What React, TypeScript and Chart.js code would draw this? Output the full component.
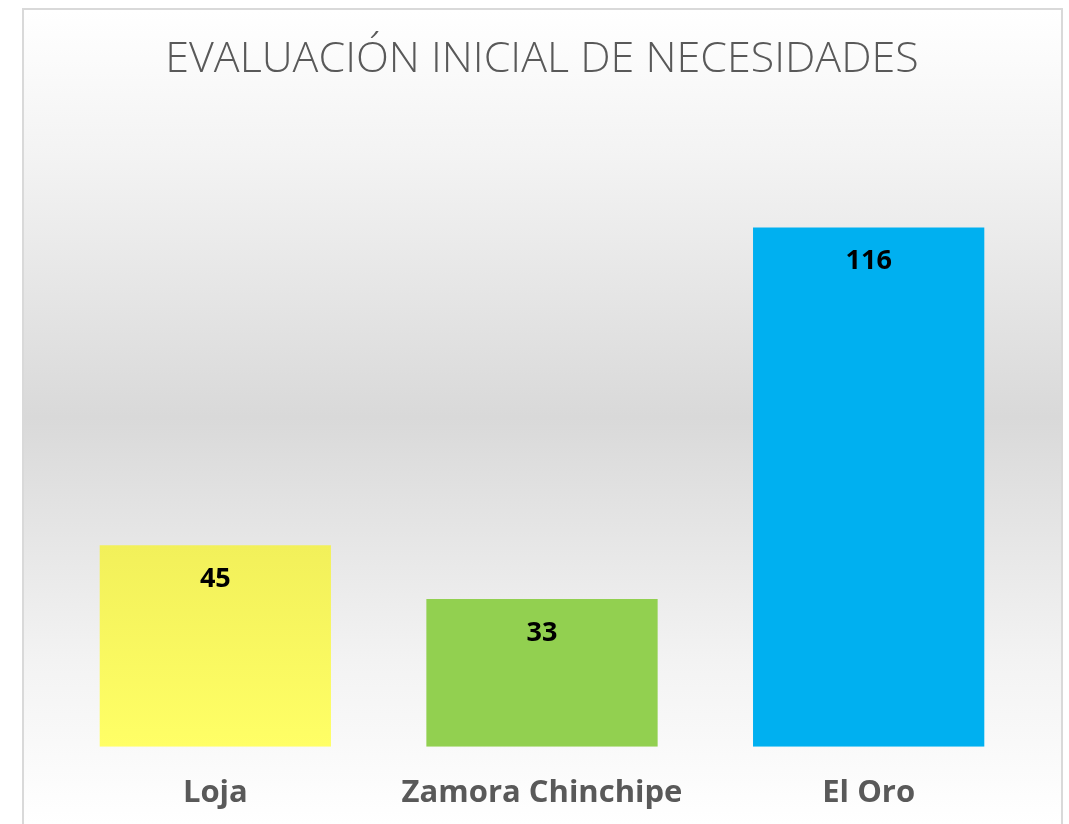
import React, { useEffect, useRef } from "react";
import { Chart, registerables } from "chart.js";

Chart.register(...registerables);

const categories = ["Loja", "Zamora Chinchipe", "El Oro"];
const values = [45, 33, 116];
const titleText = "EVALUACIÓN INICIAL DE NECESIDADES";

const FONT = "'Open Sans', 'Noto Sans', sans-serif";

export default function App() {
  const ref = useRef<HTMLCanvasElement | null>(null);

  useEffect(() => {
    const canvas = ref.current;
    if (!canvas) return;

    const labelPlugin = {
      id: "barLabels",
      afterDatasetsDraw(chart: any) {
        const ctx = chart.ctx;
        const meta = chart.getDatasetMeta(0);
        ctx.save();
        ctx.font = `bold 27px ${FONT}`;
        ctx.fillStyle = "#000000";
        ctx.textAlign = "center";
        ctx.textBaseline = "middle";
        meta.data.forEach((bar: any, i: number) => {
          ctx.fillText(String(values[i]), bar.x, bar.y + 34);
        });
        ctx.restore();
      },
    };

    const chart = new Chart(canvas, {
      type: "bar",
      data: {
        labels: categories,
        datasets: [
          {
            data: values,
            backgroundColor: (c: any) => {
              const i = c.dataIndex;
              if (i === 0) {
                const area = c.chart.chartArea;
                const ys = c.chart.scales && c.chart.scales.y;
                if (!area || !ys) return "#f8f860";
                const top = ys.getPixelForValue(values[0]);
                if (!isFinite(top) || !isFinite(area.bottom)) return "#f8f860";
                const g = c.chart.ctx.createLinearGradient(0, top, 0, area.bottom);
                g.addColorStop(0, "#f2f05a");
                g.addColorStop(1, "#ffff66");
                return g;
              }
              return i === 1 ? "#92d050" : "#00b0f0";
            },
            borderWidth: 0,
            barPercentage: 0.708,
            categoryPercentage: 1,
          },
        ],
      },
      options: {
        animation: false,
        responsive: false,
        maintainAspectRatio: false,
        layout: { padding: { left: 28, right: 29, top: 0, bottom: 14 } },
        plugins: {
          legend: { display: false },
          tooltip: { enabled: false },
          title: {
            display: true,
            text: titleText,
            color: "#595959",
            font: { family: FONT, size: 43, weight: "300" as any, lineHeight: 1.2 },
            padding: { top: 24.2, bottom: 34.2 },
          },
        },
        scales: {
          x: {
            grid: { display: false, drawTicks: false },
            border: { display: false },
            ticks: {
              color: "#595959",
              font: { family: FONT, size: 31, weight: "bold", lineHeight: 1.2 },
              padding: 28,
            },
          },
          y: {
            display: false,
            min: 0,
            max: 140,
          },
        },
      },
      plugins: [labelPlugin],
    });
    return () => chart.destroy();
  }, []);

  return (
    <div
      style={{
        position: "absolute",
        left: 22,
        top: 8,
        width: 1041,
        height: 816,
        boxSizing: "border-box",
        borderTop: "2px solid #d9d9d9",
        borderLeft: "2px solid #d9d9d9",
        borderRight: "2px solid #d9d9d9",
        background:
          "linear-gradient(to bottom, #ffffff 0%, #f3f3f3 18%, #d9d9d9 50%, #f3f3f3 80%, #ffffff 100%)",
        overflow: "hidden",
      }}
    >
      <canvas ref={ref} width={1037} height={844} style={{ display: "block" }} />
    </div>
  );
}
